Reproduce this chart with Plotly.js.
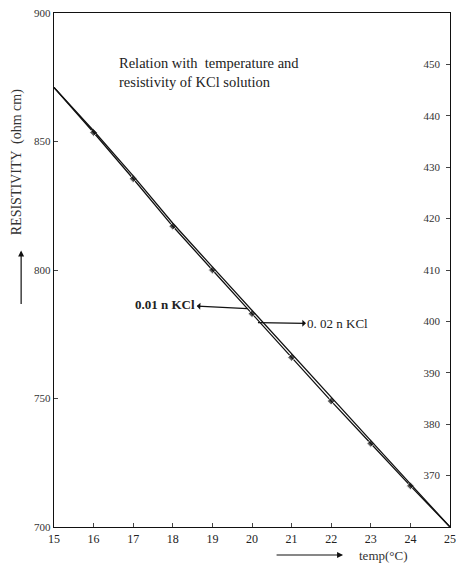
<!DOCTYPE html>
<html>
<head>
<meta charset="utf-8">
<script src="https://cdn.plot.ly/plotly-3.0.1.min.js"></script>
<style>html,body{margin:0;padding:0;background:#fff;}#chart{width:458px;height:573px;}</style>
</head>
<body>
<div id="chart"></div>
<script>
// Data
const temps = [15, 16, 17, 18, 19, 20, 21, 22, 23, 24, 25];
const kcl001 = [871, 853.5, 835.5, 817, 800, 783, 766, 749, 732.5, 716, 700];      // left axis, ohm cm
const kcl002 = [445.5, 437.1, 428.3, 419.1, 410.6, 402.1, 393.6, 385.1, 376.8, 368.4, 360]; // right axis, ohm cm
const markerSizes = [0, 6, 6, 6, 6, 6, 6, 6, 6, 6, 0];
const leftTicks = [700, 750, 800, 850, 900];
const rightTicks = [370, 380, 390, 400, 410, 420, 430, 440, 450];
const xTicks = [15, 16, 17, 18, 19, 20, 21, 22, 23, 24, 25];

const serif = "Liberation Serif, DejaVu Serif, serif";

const traces = [
  {x: temps, y: kcl001, mode: 'lines+markers', yaxis: 'y', name: '0.01 n KCl',
   line: {color: '#111', width: 1.3},
   marker: {symbol: 'diamond', size: markerSizes, color: '#111'}},
  {x: temps, y: kcl002, mode: 'lines', yaxis: 'y2', name: '0.02 n KCl',
   line: {color: '#111', width: 1.3}}
];

const layout = {
  width: 458, height: 573,
  margin: {l: 54, r: 8, t: 13, b: 46},
  paper_bgcolor: '#fff', plot_bgcolor: '#fff',
  showlegend: false,
  font: {family: serif, size: 11, color: '#222'},
  xaxis: {range: [15, 25], tickvals: xTicks, ticks: 'inside', ticklen: 4,
    showline: true, linecolor: '#111', linewidth: 1.2, mirror: true,
    showgrid: false, zeroline: false, tickfont: {family: serif, size: 12, color: '#222'}},
  yaxis: {range: [700, 900], tickvals: leftTicks, ticks: 'inside', ticklen: 4,
    showline: true, linecolor: '#111', linewidth: 1.2,
    showgrid: false, zeroline: false, tickfont: {family: serif, size: 11, color: '#333'}},
  yaxis2: {range: [360, 460], tickvals: rightTicks, overlaying: 'y', side: 'right',
    ticks: 'inside', ticklen: 4, ticklabelstandoff: -30,
    showline: true, linecolor: '#111', linewidth: 1.2,
    showgrid: false, zeroline: false, tickfont: {family: serif, size: 11, color: '#333'}},
  annotations: [
    {xref: 'paper', yref: 'paper', x: 0.16, y: 0.922, xanchor: 'left', yanchor: 'top',
     align: 'left', showarrow: false,
     text: 'Relation with  temperature and<br>resistivity of KCl solution',
     font: {family: serif, size: 14.5, color: '#222'}},
    {xref: 'x', yref: 'y', x: 19.88, y: 785, ax: -82, ay: -4, text: '<b>0.01 n KCl</b>',
     showarrow: true, arrowside: 'start', arrowhead: 2, arrowsize: 1, arrowwidth: 1.2,
     arrowcolor: '#111', font: {family: serif, size: 13, color: '#222'}},
    {xref: 'x', yref: 'y', x: 20.15, y: 779.5, ax: 80, ay: 1, text: '0. 02 n KCl',
     showarrow: true, arrowside: 'start', arrowhead: 2, arrowsize: 1, arrowwidth: 1.2,
     arrowcolor: '#111', font: {family: serif, size: 13, color: '#222'}},
    {xref: 'paper', yref: 'paper', x: -0.093, y: 0.71, yanchor: 'middle', xanchor: 'center',
     textangle: -90, showarrow: false,
     text: 'RESISTIVITY  (ohm cm)', font: {family: serif, size: 14, color: '#333'}},
    {xref: 'paper', yref: 'paper', x: -0.083, y: 0.538, ax: 0, ay: 55, text: '',
     showarrow: true, arrowhead: 2, arrowsize: 1, arrowwidth: 1.2, arrowcolor: '#111'},
    {xref: 'paper', yref: 'paper', x: 0.73, y: -0.0545, ax: -68, ay: 0, text: '',
     showarrow: true, arrowhead: 2, arrowsize: 1, arrowwidth: 1.2, arrowcolor: '#111'},
    {xref: 'paper', yref: 'paper', x: 0.765, y: -0.0545, xanchor: 'left', yanchor: 'middle',
     showarrow: false,
     text: 'temp(°C)', font: {family: serif, size: 13, color: '#333'}}
  ]
};

Plotly.newPlot('chart', traces, layout, {displayModeBar: false, staticPlot: true});
</script>
</body>
</html>
